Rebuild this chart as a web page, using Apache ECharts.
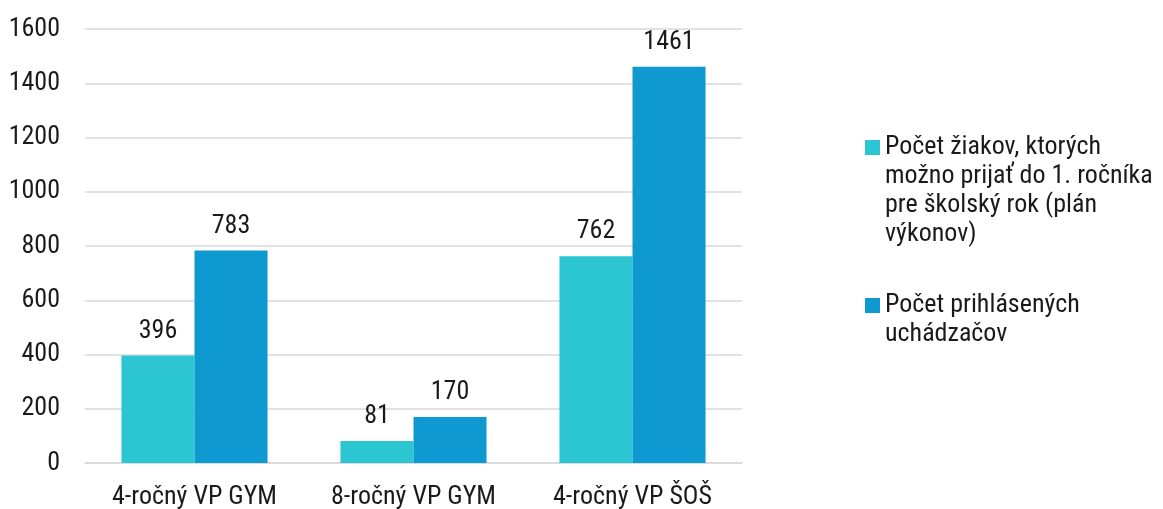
<!DOCTYPE html>
<html>
<head>
<meta charset="utf-8">
<script src="https://cdn.jsdelivr.net/npm/echarts@6/dist/echarts.min.js"></script>
<style>
  html, body { margin: 0; padding: 0; background: #fff; }
  #chart { width: 1163px; height: 509px; }
</style>
</head>
<body>
<div id="chart"></div>
<script>
const categories = ['4-ročný VP GYM', '8-ročný VP GYM', '4-ročný VP ŠOŠ'];
const planValues = [396, 81, 762];
const applicantValues = [783, 170, 1461];
const seriesNames = [
  'Počet žiakov, ktorých\nmožno prijať do 1. ročníka\npre školský rok (plán\nvýkonov)',
  'Počet prihlásených\nuchádzačov'
];
const yTicks = { min: 0, max: 1600, interval: 200 };

const FONT = "'Roboto Condensed', 'Liberation Sans Narrow', Roboto, sans-serif";
const FS = 26;
const LH = 29;
const TEXT = '#1a1a1a';

const chart = echarts.init(document.getElementById('chart'));

// legend text is centred on the marker, so pad with empty lines on top
// to keep the marker next to the first line
function legendText(name) {
  const lines = name.split('\n').length;
  return '\n'.repeat(lines - 1) + name;
}

chart.setOption({
  animation: false,
  textStyle: { fontFamily: FONT },
  grid: { left: 85, right: 421, top: 29, bottom: 46, containLabel: false, outerBoundsMode: 'none' },
  legend: {
    orient: 'vertical',
    left: 865,
    top: 46,
    padding: 0,
    itemWidth: 15,
    itemHeight: 15,
    itemGap: 13,
    icon: 'rect',
    selectedMode: false,
    formatter: legendText,
    textStyle: { fontFamily: FONT, fontSize: FS, lineHeight: LH, color: TEXT },
    data: seriesNames
  },
  xAxis: {
    type: 'category',
    data: categories,
    axisLine: { show: true, lineStyle: { color: '#d9d9d9', width: 1.5 } },
    axisTick: { show: false },
    axisLabel: { margin: 20, fontSize: FS, lineHeight: LH, color: TEXT, fontFamily: FONT }
  },
  yAxis: {
    type: 'value',
    min: yTicks.min,
    max: yTicks.max,
    interval: yTicks.interval,
    axisLine: { show: false },
    axisTick: { show: false },
    axisLabel: { margin: 25, fontSize: FS, color: TEXT, fontFamily: FONT, formatter: v => String(v) },
    splitLine: { lineStyle: { color: '#d9d9d9', width: 1.5 } }
  },
  series: [
    {
      name: seriesNames[0],
      type: 'bar',
      data: planValues,
      barGap: '0%',
      barCategoryGap: '33.3%',
      itemStyle: { color: '#2cc5d2' },
      label: { show: true, position: 'top', distance: 10, fontSize: FS, lineHeight: LH, color: TEXT, fontFamily: FONT }
    },
    {
      name: seriesNames[1],
      type: 'bar',
      data: applicantValues,
      barGap: '0%',
      barCategoryGap: '33.3%',
      itemStyle: { color: '#0e99d0' },
      label: { show: true, position: 'top', distance: 10, fontSize: FS, lineHeight: LH, color: TEXT, fontFamily: FONT }
    }
  ]
});
</script>
</body>
</html>
